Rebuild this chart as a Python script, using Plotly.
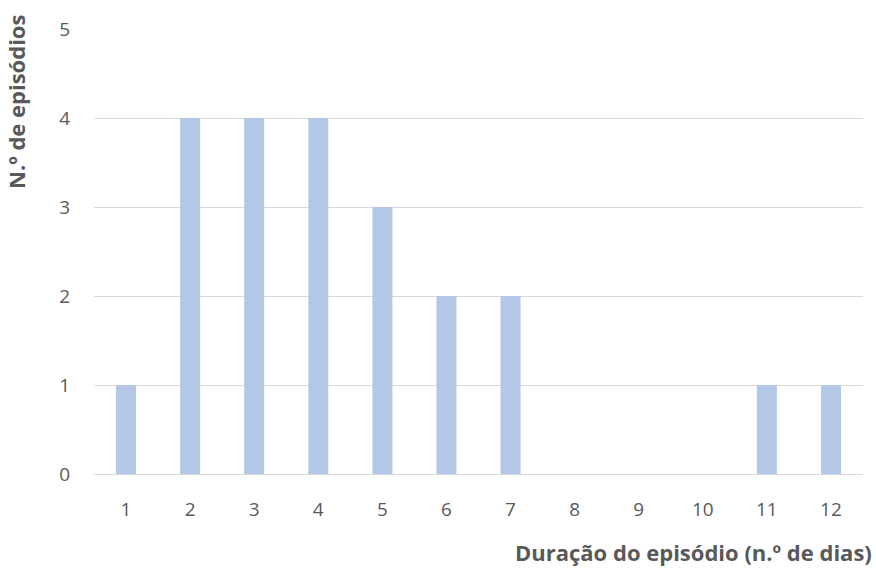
import plotly.graph_objects as go

# Episode duration (days) and number of episodes
duracao = [str(d) for d in range(1, 13)]
n_episodios = [1, 4, 4, 4, 3, 2, 2, 0, 0, 0, 1, 1]
y_ticks = [0, 1, 2, 3, 4, 5]

text_color = "#595959"
font_family = "Open Sans, Lato, sans-serif"

fig = go.Figure(
    go.Bar(
        x=duracao,
        y=n_episodios,
        marker=dict(color="#B4C7E7", line=dict(width=0)),
    )
)

fig.update_layout(
    width=876,
    height=569,
    margin=dict(l=94, r=13, t=29, b=95),
    paper_bgcolor="white",
    plot_bgcolor="white",
    bargap=0.6875,
    showlegend=False,
    font=dict(family=font_family, color=text_color, size=19),
    xaxis=dict(
        type="category",
        showgrid=False,
        showline=False,
        zeroline=False,
        ticks="outside",
        ticklen=18,
        tickcolor="rgba(0,0,0,0)",
        tickfont=dict(size=19, color=text_color),
    ),
    yaxis=dict(
        range=[0, 5],
        tickvals=y_ticks,
        showgrid=True,
        gridcolor="#D9D9D9",
        gridwidth=1,
        zeroline=True,
        zerolinecolor="#D9D9D9",
        zerolinewidth=1,
        showline=False,
        ticks="outside",
        ticklen=19,
        tickcolor="rgba(0,0,0,0)",
        tickfont=dict(size=19, color=text_color),
    ),
    annotations=[
        dict(
            text="<b>N.º de episódios</b>",
            xref="paper", yref="paper",
            x=-95 / 769, y=1 + 16 / 445,
            xanchor="left", yanchor="top",
            textangle=-90,
            showarrow=False,
            font=dict(size=22, color=text_color, family=font_family),
        ),
        dict(
            text="<b>Duração do episódio (n.º de dias)</b>",
            xref="paper", yref="paper",
            x=1 + 11 / 769, y=-61 / 445,
            xanchor="right", yanchor="top",
            showarrow=False,
            font=dict(size=22, color=text_color, family=font_family),
        ),
    ],
)

fig.write_html("out.html")
